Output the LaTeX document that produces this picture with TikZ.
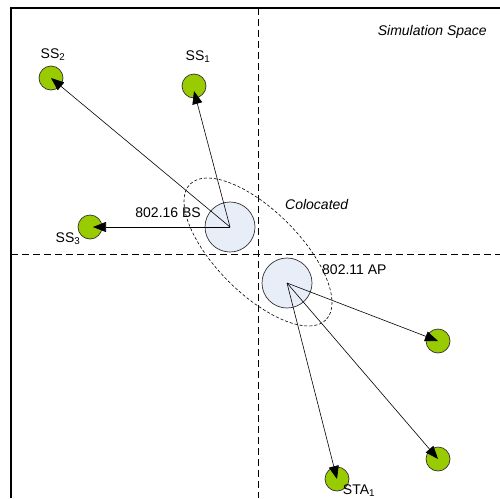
\documentclass[tikz,border=0pt]{standalone}
\usepackage{fontspec}
\setmainfont{Liberation Sans}
\usetikzlibrary{arrows.meta}
\definecolor{sgreen}{HTML}{99CC00}
\definecolor{sblue}{HTML}{E8EEF8}
\begin{document}
\begin{tikzpicture}[x=1pt,y=-1pt,
  sta/.style={circle,draw=black!80,line width=0.7pt,fill=sgreen,minimum size=24pt,inner sep=0pt},
  base/.style={circle,draw=black!80,line width=0.7pt,fill=sblue,minimum size=50pt,inner sep=0pt},
  link/.style={line width=0.6pt,-{Triangle[length=13pt,width=10pt]}},
  lbl/.style={font=\fontsize{14}{16}\selectfont,inner sep=0pt},
  axis/.style={line width=0.7pt,dash pattern=on 7pt off 4pt}]
\useasboundingbox (0,0) rectangle (500,498);
% frame
\draw[line width=1.8pt] (11,498) -- (11,8) -- (500,8);
% axes
\draw[axis] (258,8) -- (258,498);
\draw[axis] (11,254) -- (500,254);
% colocated ellipse
\draw[line width=0.6pt,dash pattern=on 3pt off 2pt] (258,252) ellipse[x radius=96,y radius=41.6,rotate=-45];
% base stations
\node[base] (bs) at (230,227) {};
\node[base] (ap) at (287,283) {};
% stations
\node[sta] (ss2) at (51,78) {};
\node[sta] (ss1) at (194,86) {};
\node[sta] (ss3) at (90,227) {};
\node[sta] (sta2) at (438,341) {};
\node[sta] (sta3) at (438,459) {};
\node[sta] (sta1) at (337,479) {};
% links
\draw[link] (bs.center) -- (ss2.center);
\draw[link] (bs.center) -- ([yshift=-5pt]ss1.center);
\draw[link] (bs.center) -- ([xshift=3pt]ss3.center);
\draw[link] (ap.center) -- (sta2.center);
\draw[link] (ap.center) -- (sta3.center);
\draw[link] (ap.center) -- (sta1.center);
% labels
\node[lbl] (lss2) at (53,55) {SS\textsubscript{2}};
\node[lbl] (lss1) at (198,57) {SS\textsubscript{1}};
\node[lbl] (lss3) at (68,239) {SS\textsubscript{3}};
\node[lbl,anchor=east] (lbs) at (201,213) {802.16 BS};
\node[lbl,anchor=west] (lap) at (322,270) {802.11 AP};
\node[lbl,anchor=west] (lcol) at (285,204) {\itshape Colocated};
\node[lbl,anchor=east] (lsim) at (487,32) {\itshape Simulation Space};
\node[lbl] (lsta1) at (359,491) {STA\textsubscript{1}};
\end{tikzpicture}
\end{document}
